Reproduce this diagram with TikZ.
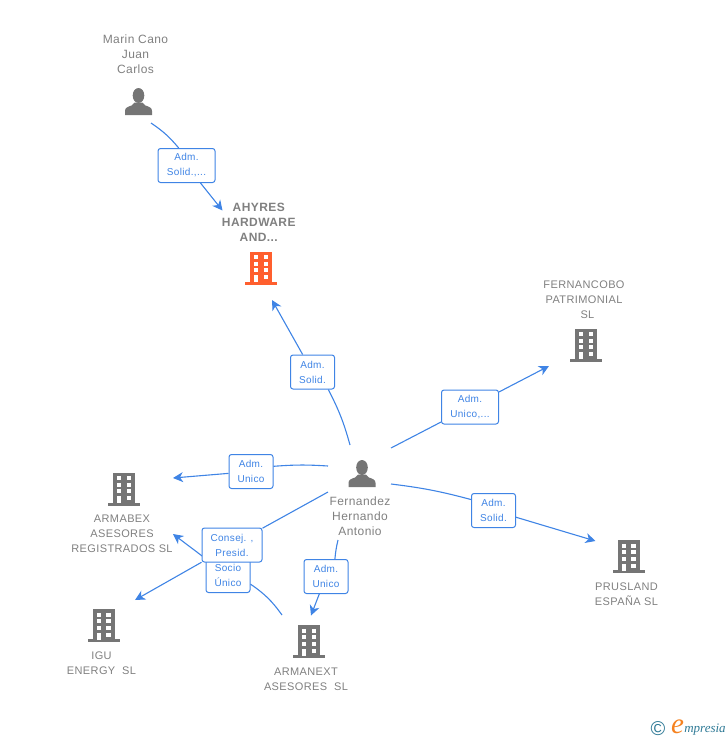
\documentclass[tikz,border=0pt]{standalone}
\usepackage{fontspec}
\setmainfont[LetterSpace=3.5]{Liberation Sans}
\newfontfamily\logofont{Liberation Serif}
\usepackage{xcolor}
\usetikzlibrary{positioning}
\usetikzlibrary{arrows.meta}
\definecolor{linkblue}{HTML}{3F84E5}
\definecolor{icongray}{HTML}{757575}
\definecolor{textgray}{HTML}{808080}
\definecolor{iconorange}{HTML}{FF5F2E}
\definecolor{logoteal}{HTML}{2F7A96}
\definecolor{logoorange}{HTML}{F58220}
\tikzstyle{role}=[draw=linkblue, fill=white, line width=1pt, rounded corners=2.5pt, text=linkblue, inner sep=0pt, minimum width=44, minimum height=34, align=center, font=\fontsize{10}{15}\selectfont]
\tikzstyle{wide}=[minimum width=57]
\tikzstyle{link}=[draw=linkblue, line width=1.1pt]
\tikzstyle{linkarrow}=[link, -{Stealth[length=10pt, width=10pt, inset=3pt]}]
\tikzstyle{persontxt}=[text=textgray, inner sep=0pt, align=center, font=\fontsize{12}{15}\selectfont]
\tikzstyle{companytxt}=[text=textgray, inner sep=0pt, align=center, font=\fontsize{11}{15}\selectfont]
\tikzset{
  building/.pic={
    \node[minimum width=32, minimum height=33, inner sep=0pt] (-box) {};
    \fill[pic actions] (-11,-16.5) rectangle (11,14);
    \fill[pic actions] (-16,13.5) rectangle (16,16.5);
    \foreach \ya in {-13,-6.5,0,7} {
      \fill[white] (-7,\ya) rectangle (-3,\ya+4);
      \fill[white] (2.5,\ya) rectangle (7,\ya+4);
    }
    \fill[white] (-7,7) rectangle (-3,14);
  },
  person/.pic={
    \node[minimum width=27, minimum height=27, inner sep=0pt] (-box) {};
    \fill[icongray] (0,-6) ellipse (5.8 and 7.5);
    \fill[icongray] (-13.5,13.5) -- (-13.5,9.5) .. controls (-13.5,6) and (-11,5.5) .. (-7,4) -- (-4,1) -- (4,1) -- (7,4) .. controls (11,5.5) and (13.5,6) .. (13.5,9.5) -- (13.5,13.5) -- cycle;
  }
}

\begin{document}
\begin{tikzpicture}[x=1pt, y=-1pt]
    \useasboundingbox (0,0) rectangle (728,740);

    % people and companies
    \pic         (marin)      at (138.5,101.5) {person};
    \pic         (fernandez)  at (362,473.5)   {person};
    \pic[fill=iconorange] (ahyres)     at (261,268)   {building};
    \pic[fill=icongray]   (fernancobo) at (586,345)   {building};
    \pic[fill=icongray]   (prusland)   at (628.5,556.5) {building};
    \pic[fill=icongray]   (armabex)    at (124,489)   {building};
    \pic[fill=icongray]   (igu)        at (103.5,625.5) {building};
    \pic[fill=icongray]   (armanext)   at (309,641.5) {building};

    \node[persontxt]  (marintxt)      [above = 14pt of marin-box, xshift=-3pt]     {Marin Cano\\Juan\\Carlos};
    \node[persontxt]  (fernandeztxt)  [below = 9pt of fernandez-box, xshift=-2pt]  {Fernandez\\Hernando\\Antonio};
    \node[persontxt]  (ahyrestxt)     [above = 10pt of ahyres-box, xshift=-2pt]    {\textbf{AHYRES}\\\textbf{HARDWARE}\\\textbf{AND...}};
    \node[companytxt] (fernancobotxt) [above = 9pt of fernancobo-box, xshift=-2pt] {FERNANCOBO\\PATRIMONIAL\\\ \ SL};
    \node[companytxt] (pruslandtxt)   [below = 9pt of prusland-box, xshift=-2pt]   {PRUSLAND\\ESPAÑA SL};
    \node[companytxt] (armabextxt)    [below = 9pt of armabex-box, xshift=-2pt]    {ARMABEX\\ASESORES\\REGISTRADOS SL};
    \node[companytxt] (igutxt)        [below = 9pt of igu-box, xshift=-2pt]        {IGU\\ENERGY\ \ SL};
    \node[companytxt] (armanexttxt)   [below = 10pt of armanext-box, xshift=-3pt]  {ARMANEXT\\ASESORES\ \ SL};

    % free ends of the connectors
    \coordinate (marinout)   at (151,123);
    \coordinate (ahyresin)   at (222.5,210.5);
    \coordinate (ferN)       at (350,445);
    \coordinate (ahyrestip)  at (272,300);
    \coordinate (ferNE)      at (391,448);
    \coordinate (fernantip)  at (549,366);
    \coordinate (ferE)       at (391,484);
    \coordinate (prustip)    at (595.5,541);
    \coordinate (ferW)       at (328,466);
    \coordinate (armabtipA)  at (173,478);
    \coordinate (ferSW)      at (328,492);
    \coordinate (igutip)     at (135,600);
    \coordinate (ferS)       at (338,540);
    \coordinate (armantip)   at (311,615.5);
    \coordinate (armanout)   at (282,615);
    \coordinate (armabtipB)  at (173,534);

    % relations
    \node[role, wide] (solidA) at (186.5,165.5) {Adm.\ \\Solid.,...};
    \node[role]       (solidB) at (312.5,372) {Adm.\ \\Solid.};
    \node[role, wide] (unicoA) at (470,407)   {Adm.\ \\Unico,...};
    \node[role]       (solidC) at (493.5,510.5) {Adm.\ \\Solid.};
    \node[role]       (unicoB) at (251,471.5) {Adm.\ \\Unico};
    \node[role]       (unicoC) at (326,576.5) {Adm.\ \\Unico};
    \node[role]       (socio)  at (228,575.5) {Socio\\Único};

    \draw[linkarrow] (socio)    to (armabtipB);
    \draw[link]      (armanout) to[bend right=10] (socio.339);

    \node[role, minimum width=60] (consej) at (232,545) {Consej. ,\\Presid.};

    \draw[link]      (marinout) to[bend left=8] (solidA.114);
    \draw[linkarrow] (solidA)   to (ahyresin);
    \draw[link]      (ferN)     to[bend right=6] (solidB.312);
    \draw[linkarrow] (solidB)   to (ahyrestip);
    \draw[link]      (ferNE)    to (unicoA);
    \draw[linkarrow] (unicoA)   to (fernantip);
    \draw[link]      (ferE)     to[bend left=4] (solidC.154);
    \draw[linkarrow] (solidC)   to (prustip);
    \draw[link]      (ferW)     to[bend right=4] (unicoB.13);
    \draw[linkarrow] (unicoB)   to (armabtipA);
    \draw[link]      (ferSW)    to (consej);
    \draw[linkarrow] (consej)   to (igutip);
    \draw[link]      (ferS)     to[bend right=4] (unicoC.63);
    \draw[linkarrow] (unicoC)   to (armantip);

    % logo
    \node[text=logoteal, inner sep=0pt, font=\fontsize{20}{20}\selectfont] (copyr) at (658,729) {©};
    \node[text=logoorange, inner sep=0pt, font=\logofont\itshape\fontsize{29}{29}\selectfont] (logoe) at (677.5,727) {e};
    \node[text=logoteal, inner sep=0pt, font=\logofont\itshape\fontsize{13}{13}\selectfont] (logotxt) at (705,729.5) {mpresia};
\end{tikzpicture}
\end{document}
